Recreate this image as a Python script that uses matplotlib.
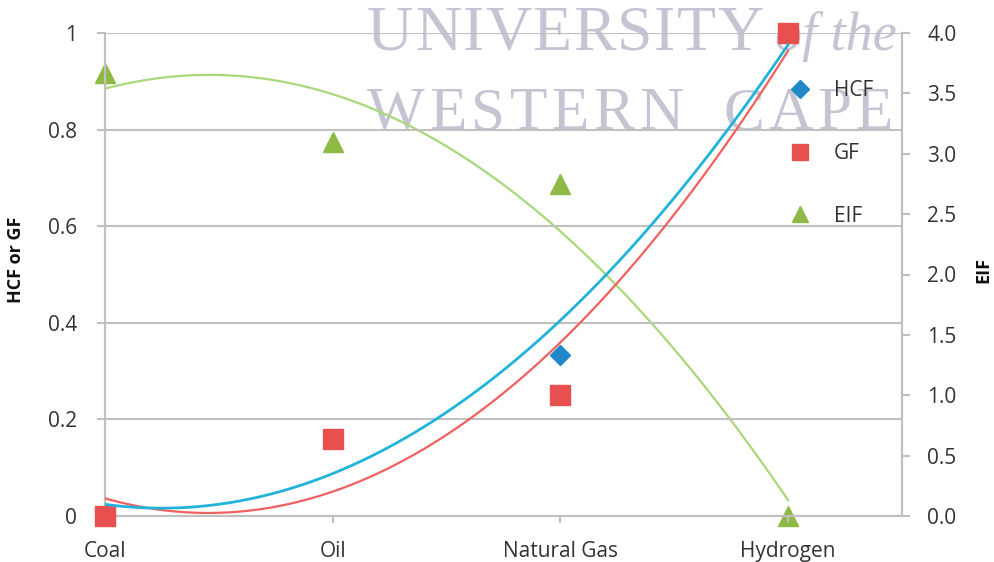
import numpy as np
import matplotlib
matplotlib.use("Agg")
import matplotlib.pyplot as plt
from matplotlib.lines import Line2D

# Fuel categories and the three indicator series
categories = ["Coal", "Oil", "Natural Gas", "Hydrogen"]
hcf = [0.0, 0.16, 0.333, 1.0]
gf = [0.0, 0.16, 0.25, 1.0]
eif = [3.67, 3.1, 2.75, 0.0]
left_ticks = [0, 0.2, 0.4, 0.6, 0.8, 1]
left_tick_labels = ["0", "0.2", "0.4", "0.6", "0.8", "1"]
right_ticks = [0.0, 0.5, 1.0, 1.5, 2.0, 2.5, 3.0, 3.5, 4.0]

c_hcf = "#1E88C8"
c_hcf_line = "#22B3DA"
c_gf = "#E8504F"
c_gf_line = "#F0605E"
c_eif = "#8DB944"
c_eif_line = "#A8D879"
grid_c = "#C0C0C0"
txt_c = "#333333"
fs = 15

plt.rcParams["font.family"] = ["Open Sans", "DejaVu Sans"]

W, H = 994, 562
fig = plt.figure(figsize=(W / 100, H / 100), dpi=100, facecolor="white")
ax = fig.add_axes([105 / W, 1 - 516 / H, (902 - 105) / W, (516 - 33) / H])
ax2 = ax.twinx()

x = np.arange(1, len(categories) + 1)
xs = np.linspace(1, len(categories), 200)

# Second-order polynomial trendlines
def trend(y):
    p = np.polyfit(x, y, 2)
    return np.polyval(p, xs)

ax.set_zorder(2)
ax2.set_zorder(1)
ax.patch.set_visible(False)
ax2.patch.set_visible(False)

ax.plot(x, hcf, linestyle="none", marker="D", ms=10, color=c_hcf, zorder=3, clip_on=False)
ax.plot(x, gf, linestyle="none", marker="s", ms=14, color=c_gf, zorder=4, clip_on=False)
ax.plot(xs, trend(hcf), color=c_hcf_line, lw=2.0, zorder=6)
ax.plot(xs, trend(gf), color=c_gf_line, lw=1.6, zorder=5)

ax2.plot(x, eif, linestyle="none", marker="^", ms=15, color=c_eif, zorder=3, clip_on=False)
ax2.plot(xs, trend(eif), color=c_eif_line, lw=1.6, zorder=4)

ax.set_xlim(1, 4.5)
ax.set_ylim(0, 1)
ax2.set_ylim(0, 4)

ax.set_xticks(x)
ax.set_xticklabels(categories, fontsize=fs, color=txt_c)
ax.set_yticks(left_ticks)
ax.set_yticklabels(left_tick_labels, fontsize=fs, color=txt_c)
ax2.set_yticks(right_ticks)
ax2.set_yticklabels([f"{v:.1f}" for v in right_ticks], fontsize=fs, color=txt_c)

ax.grid(axis="y", color=grid_c, lw=1.5, zorder=0)
ax.set_axisbelow(True)
for a in (ax, ax2):
    for s in a.spines.values():
        s.set_color(grid_c)
        s.set_linewidth(1.5)
    a.spines["top"].set_visible(False)
ax.tick_params(axis="y", length=6, color=grid_c, width=1.5, pad=14, direction="out")
ax.tick_params(axis="x", length=5, color=grid_c, width=1.5, pad=13)
ax2.tick_params(axis="y", length=6, color=grid_c, width=1.5, pad=12)

ax.set_ylabel("HCF or GF", fontsize=13, fontweight="bold", color="#111111")
ax.yaxis.set_label_coords(-0.100, 0.53)
ax2.set_ylabel("EIF", fontsize=13, fontweight="bold", color="#111111", rotation=90)
ax2.yaxis.set_label_coords(1.091, 0.51)

handles = [
    Line2D([], [], linestyle="none", marker="D", ms=9, color=c_hcf),
    Line2D([], [], linestyle="none", marker="s", ms=12, color=c_gf),
    Line2D([], [], linestyle="none", marker="^", ms=12, color=c_eif),
]
leg = ax.legend(handles, ["HCF", "GF", "EIF"], loc="upper left",
                bbox_to_anchor=(0.849, 0.919), frameon=False, fontsize=fs,
                labelspacing=2.0, handletextpad=1.1, handlelength=1.0,
                borderaxespad=0.0)
for t in leg.get_texts():
    t.set_color(txt_c)

# University watermark, letter-spaced words placed in pixel coordinates,
# sitting beneath the chart artists
wm = "#C4C4D2"
renderer = fig.canvas.get_renderer()

def spaced_word(word, x0, x1, baseline, size, italic=False):
    style = "italic" if italic else "normal"
    widths = []
    for ch in word:
        t = fig.text(0, 0, ch, fontsize=size, family="Liberation Serif", style=style)
        widths.append(t.get_window_extent(renderer).width)
        t.remove()
    gap = (x1 - x0 - sum(widths)) / max(len(word) - 1, 1)
    xp = x0
    for ch, w in zip(word, widths):
        fig.text(xp / W, 1 - baseline / H, ch, fontsize=size, family="Liberation Serif",
                 style=style, color=wm, ha="left", va="baseline", zorder=0.5)
        xp += w + gap

spaced_word("UNIVERSITY", 367, 763, 50, 46)
fig.text(897 / W, 1 - 50 / H, "of the", fontsize=39, family="Liberation Serif", style="italic",
         color=wm, ha="right", va="baseline", zorder=0.5)
spaced_word("WESTERN", 367, 683, 129, 44)
spaced_word("CAPE", 723, 893, 129, 44)

fig.savefig("out.png", dpi=100, facecolor="white")
